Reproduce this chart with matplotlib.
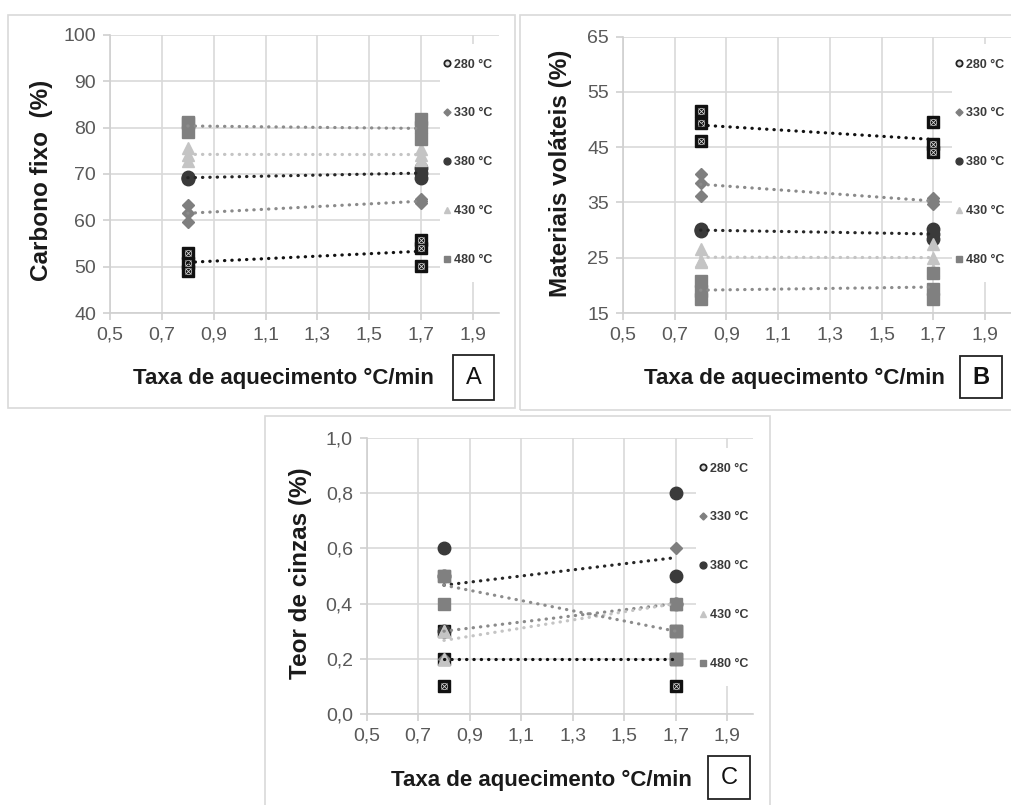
import matplotlib
matplotlib.use("Agg")
import matplotlib.pyplot as plt
import numpy as np
from matplotlib.patches import Rectangle
from matplotlib.lines import Line2D
from matplotlib.ticker import FuncFormatter

plt.rcParams['font.family'] = ['Liberation Sans', 'DejaVu Sans']

# ---------------- data ----------------
rates = [0.8, 1.7]
temps = ['280 °C', '330 °C', '380 °C', '430 °C', '480 °C']
xticks = [0.5, 0.7, 0.9, 1.1, 1.3, 1.5, 1.7, 1.9]

# Carbono fixo (%) – replicates at 0.8 and 1.7 °C/min
cf_280 = [[53.0, 50.8, 49.0], [55.8, 54.0, 50.2]]
cf_330 = [[63.4, 61.6, 59.6], [64.5, 64.1, 63.8]]
cf_380 = [[69.4, 69.2, 69.0], [71.2, 70.2, 69.2]]
cf_430 = [[75.7, 74.2, 72.8], [75.4, 74.2, 73.0]]
cf_480 = [[81.2, 80.9, 79.0], [81.8, 80.2, 77.5]]
cf_yticks = [40, 50, 60, 70, 80, 90, 100]

# Materiais voláteis (%)
mv_280 = [[51.5, 49.3, 46.2], [49.5, 45.6, 44.1]]
mv_330 = [[40.2, 38.5, 36.2], [35.8, 35.2, 34.8]]
mv_380 = [[30.2, 30.0, 29.8], [30.2, 29.3, 28.4]]
mv_430 = [[26.6, 24.5, 24.2], [27.4, 25.0, 22.7]]
mv_480 = [[20.8, 19.0, 17.6], [22.3, 19.3, 17.5]]
mv_yticks = [15, 25, 35, 45, 55, 65]

# Teor de cinzas (%)
tc_280 = [[0.1, 0.2, 0.3], [0.1, 0.2, 0.3]]
tc_330 = [[0.2, 0.3, 0.4], [0.6, 0.4, 0.2]]
tc_380 = [[0.6, 0.5, 0.3], [0.8, 0.5, 0.4]]
tc_430 = [[0.2, 0.3, 0.3], [0.4, 0.4, 0.4]]
tc_480 = [[0.5, 0.5, 0.4], [0.4, 0.3, 0.2]]
tc_yticks = [0.0, 0.2, 0.4, 0.6, 0.8, 1.0]

panels = [
    dict(series=[cf_280, cf_330, cf_380, cf_430, cf_480], ylabel='Carbono fixo  (%)',
         yticks=cf_yticks, yfmt='{:.0f}', letter='A', letter_bold=False),
    dict(series=[mv_280, mv_330, mv_380, mv_430, mv_480], ylabel='Materiais voláteis (%)',
         yticks=mv_yticks, yfmt='{:.0f}', letter='B', letter_bold=True),
    dict(series=[tc_280, tc_330, tc_380, tc_430, tc_480], ylabel='Teor de cinzas (%)',
         yticks=tc_yticks, yfmt='{:.1f}', letter='C', letter_bold=False),
]

# ---------------- styles / layout (pixels) ----------------
W, H = 1011, 805
styles = [
    dict(marker='s', color='#111111', ms=8.5, line='#111111'),   # 280 (patterned)
    dict(marker='D', color='#7f7f7f', ms=6.5, line='#8a8a8a'),   # 330
    dict(marker='o', color='#3a3a3a', ms=9, line='#262626'),     # 380
    dict(marker='^', color='#c4c4c4', ms=8.5, line='#c4c4c4'),   # 430
    dict(marker='s', color='#808080', ms=8.5, line='#8c8c8c'),   # 480
]

# axes boxes: left, right, top, bottom (px)
axes_px = [(110, 499, 35, 313), (623, 1011, 36.7, 313), (366.7, 753, 438, 714)]
frames_px = [(8, 15, 515, 408), (520, 15, 1013, 410), (265, 416, 770, 810)]
letter_px = [(453, 355, 494, 400), (960, 356, 1002, 398), (708, 756, 750, 799)]
xtitle_px = [(283.5, 378), (794, 378), (541.5, 780)]
ylabel_px = [(42, 180), (560, 173), (300, 573)]
legend_px = [(440, 44, 499, 282), (952, 44, 1011, 282), (696, 448, 753, 686)]
legend_first_px = [65, 65, 469]   # centre of first entry

fig = plt.figure(figsize=(W / 100, H / 100), dpi=100)
fig.patch.set_facecolor('white')

for (x0, y0, x1, y1) in frames_px:
    fig.add_artist(Rectangle((x0 / W, 1 - y1 / H), (x1 - x0) / W, (y1 - y0) / H,
                             transform=fig.transFigure, fill=False,
                             edgecolor='#d9d9d9', lw=1.2, zorder=0))

comma = lambda fmt: FuncFormatter(lambda v, p: fmt.format(v).replace('.', ','))

for i, pan in enumerate(panels):
    l, r, t, b = axes_px[i]
    ax = fig.add_axes([l / W, 1 - b / H, (r - l) / W, (b - t) / H])
    ax.set_xlim(0.5, 2.0)
    ax.set_ylim(pan['yticks'][0], pan['yticks'][-1])
    ax.set_xticks(xticks)
    ax.set_yticks(pan['yticks'])
    ax.xaxis.set_major_formatter(comma('{:.1f}'))
    ax.yaxis.set_major_formatter(comma(pan['yfmt']))
    ax.grid(True, color='#d9d9d9', lw=1.2)
    ax.set_axisbelow(True)
    for s in ['top', 'right']:
        ax.spines[s].set_visible(False)
    for s in ['left', 'bottom']:
        ax.spines[s].set_color('#d0d0d0')
        ax.spines[s].set_linewidth(1.2)
    ax.tick_params(axis='both', colors='#d0d0d0', labelcolor='#595959',
                   labelsize=14, length=5, width=1.2, pad=5)

    handles = []
    for k, data in enumerate(pan['series']):
        st = styles[k]
        xs = np.repeat(rates, [len(data[0]), len(data[1])])
        ys = np.concatenate([data[0], data[1]])
        ax.plot(xs, ys, ls='none', marker=st['marker'], ms=st['ms'],
                mfc=st['color'], mec=st['color'], zorder=3 + k * 0.1)
        if k == 0:
            ax.plot(xs, ys, ls='none', marker='x', ms=5.0, mec='#d8d8d8', mew=0.6,
                    zorder=3.05)
            ax.plot(xs, ys, ls='none', marker='o', ms=4.6, mfc='none', mec='#d8d8d8',
                    mew=0.5, zorder=3.05)
        coef = np.polyfit(xs, ys, 1)
        xx = np.array(rates)
        ax.plot(xx, np.polyval(coef, xx), color=st['line'], lw=2.3,
                ls=(0, (0.1, 2.2)), dash_capstyle='round', zorder=5)
        if k == 0:
            h = Line2D([], [], ls='none', marker='o', ms=4.5, mfc='#dddddd',
                       mec='#222222', mew=1.3)
        else:
            h = Line2D([], [], ls='none', marker=st['marker'], ms=st['ms'] * 0.55,
                       mfc=st['color'], mec=st['color'])
        handles.append(h)

    # legend (white box over the plot, right side)
    lx0, ly0, lx1, ly1 = legend_px[i]
    ax.add_patch(Rectangle(((lx0 - l) / (r - l), 1 - (ly1 - t) / (b - t)),
                           (lx1 - lx0) / (r - l), (ly1 - ly0) / (b - t),
                           transform=ax.transAxes, facecolor='white',
                           edgecolor='none', zorder=6, clip_on=False))
    top_px = legend_first_px[i] - 9
    leg = ax.legend(handles, temps, loc='upper left',
                    bbox_to_anchor=((lx0 - l + 1) / (r - l), 1 - (top_px - t) / (b - t)),
                    frameon=False, prop=dict(size=9, weight='bold'),
                    labelcolor='#3a3a3a', handlelength=0.6, handletextpad=0.2,
                    labelspacing=2.95, borderaxespad=0, borderpad=0.2)
    leg.set_zorder(7)

    # axis titles
    xt, yt = xtitle_px[i]
    fig.text(xt / W, 1 - yt / H, 'Taxa de aquecimento °C/min', ha='center', va='center',
             fontsize=16, fontweight='bold', color='#1a1a1a')
    yx, yy = ylabel_px[i]
    fig.text(yx / W, 1 - yy / H, pan['ylabel'], ha='center', va='center', rotation=90,
             fontsize=17.5, fontweight='bold', color='#1a1a1a')

    # letter box
    bx0, by0, bx1, by1 = letter_px[i]
    fig.add_artist(Rectangle((bx0 / W, 1 - by1 / H), (bx1 - bx0) / W, (by1 - by0) / H,
                             transform=fig.transFigure, fill=False,
                             edgecolor='#222222', lw=1.3))
    fig.text((bx0 + bx1) / 2 / W, 1 - (by0 + by1) / 2 / H, pan['letter'],
             ha='center', va='center', fontsize=17,
             fontweight='bold' if pan['letter_bold'] else 'normal', color='#111111')

fig.savefig('out.png', dpi=100)
